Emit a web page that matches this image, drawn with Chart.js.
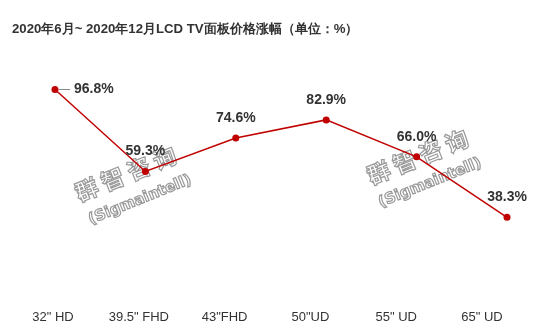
<!DOCTYPE html>
<html>
<head>
<meta charset="utf-8">
<script src="https://cdn.jsdelivr.net/npm/chart.js@4.4.1/dist/chart.umd.min.js"></script>
<style>
    body { margin: 0; background: #fff; }
    #wrap { width: 550px; height: 333px; }
</style>
</head>
<body>
<div id="wrap"><canvas id="panel-price-change" width="550" height="333"></canvas></div>
<script>
const titleText = '2020年6月~ 2020年12月LCD TV面板价格涨幅（单位：%）';
const panelSizes = ['32" HD', '39.5" FHD', '43"FHD', '50"UD', '55" UD', '65" UD'];
const priceChange = [96.8, 59.3, 74.6, 82.9, 66.0, 38.3];
const watermarkCn = '群智咨询';
const watermarkEn = '(Sigmaintell)';

const lineColor = '#c00000';
const textColor = '#333';

// value labels: first one sits right of the point with a short leader, rest above
const valueLabelPlugin = {
    id: 'valueLabels',
    afterDatasetsDraw (chart) {
        const ctx = chart.ctx;
        const points = chart.getDatasetMeta(0).data;

        ctx.save();
        ctx.font = 'bold 14px "Liberation Sans", Arial, sans-serif';
        ctx.fillStyle = textColor;
        ctx.textBaseline = 'middle';

        points.forEach((point, i) => {
            const text = priceChange[i].toFixed(1) + '%';

            if (i === 0) {
                ctx.strokeStyle = '#888';
                ctx.lineWidth = 1;
                ctx.beginPath();
                ctx.moveTo(point.x + 4, point.y);
                ctx.lineTo(point.x + 15, point.y);
                ctx.stroke();
                ctx.textAlign = 'left';
                ctx.fillText(text, point.x + 19, point.y);
                return;
            }

            ctx.textAlign = 'center';
            ctx.fillText(text, point.x, point.y - 20);
        });

        ctx.restore();
    }
};

// outlined, tilted watermark drawn twice
const watermarkPlugin = {
    id: 'watermark',
    beforeDatasetsDraw (chart) {
        const ctx = chart.ctx;
        const spots = [
            { cn: [128, 173], en: [140, 200] },
            { cn: [420, 156], en: [430, 183] }
        ];

        ctx.save();
        ctx.strokeStyle = '#999';
        ctx.lineWidth = 1.2;
        ctx.textAlign = 'center';
        ctx.textBaseline = 'middle';

        spots.forEach(spot => {
            ctx.save();
            ctx.translate(spot.cn[0], spot.cn[1]);
            ctx.rotate(-22 * Math.PI / 180);
            ctx.font = 'bold 23px "Noto Sans CJK SC", sans-serif';
            ctx.letterSpacing = '5px';
            ctx.strokeText(watermarkCn, 0, 0);
            ctx.restore();

            ctx.save();
            ctx.translate(spot.en[0], spot.en[1]);
            ctx.rotate(-22 * Math.PI / 180);
            ctx.font = 'bold 15px "DejaVu Sans", sans-serif';
            ctx.strokeText(watermarkEn, 0, 0);
            ctx.restore();
        });

        ctx.restore();
    }
};

function hiddenSideAxis (position, width) {
    return {
        position: position,
        display: true,
        min: 0,
        max: 120,
        ticks: { display: false },
        grid: { display: false, drawTicks: false },
        border: { display: false },
        afterFit: (scale) => {
            scale.width = width;
        }
    };
}

function drawPriceChange () {
    const points = priceChange.map((value, i) => ({ x: i, y: value }));

    new Chart(
        document.getElementById('panel-price-change'),
        {
            type: 'line',
            plugins: [watermarkPlugin, valueLabelPlugin],
            options: {
                responsive: false,
                animation: false,
                layout: {
                    padding: { left: 12, right: 0, top: 0, bottom: 0 }
                },
                plugins: {
                    legend: { display: false },
                    tooltip: { enabled: false },
                    title: {
                        display: true,
                        text: titleText,
                        align: 'start',
                        color: textColor,
                        font: { family: '"Liberation Sans", Arial, sans-serif', size: 13.2, weight: 'bold' },
                        padding: { top: 21, bottom: 2 }
                    }
                },
                scales: {
                    // label axis: ticks spaced a bit tighter than the points
                    x: {
                        type: 'linear',
                        position: 'bottom',
                        min: 0,
                        max: 5.326,
                        grid: { display: false, drawTicks: false },
                        border: { display: false },
                        afterBuildTicks: (scale) => {
                            scale.ticks = panelSizes.map((name, i) => ({ value: i }));
                        },
                        ticks: {
                            color: textColor,
                            padding: 9.5,
                            maxRotation: 0,
                            autoSkip: false,
                            callback: (value) => panelSizes[value],
                            font: { family: '"Liberation Sans", Arial, sans-serif', size: 13, lineHeight: 1 }
                        }
                    },
                    xp: {
                        type: 'linear',
                        display: false,
                        min: -0.022,
                        max: 5.033
                    },
                    y: hiddenSideAxis('left', 41),
                    yr: hiddenSideAxis('right', 40)
                }
            },
            data: {
                datasets: [
                    {
                        label: 'LCD TV面板价格涨幅',
                        data: points,
                        xAxisID: 'xp',
                        yAxisID: 'y',
                        clip: false,
                        borderColor: lineColor,
                        backgroundColor: lineColor,
                        borderWidth: 1.5,
                        pointRadius: 3.5,
                        pointBackgroundColor: lineColor,
                        pointBorderWidth: 0,
                        tension: 0
                    }
                ]
            }
        }
    );
}

drawPriceChange();
</script>
</body>
</html>
